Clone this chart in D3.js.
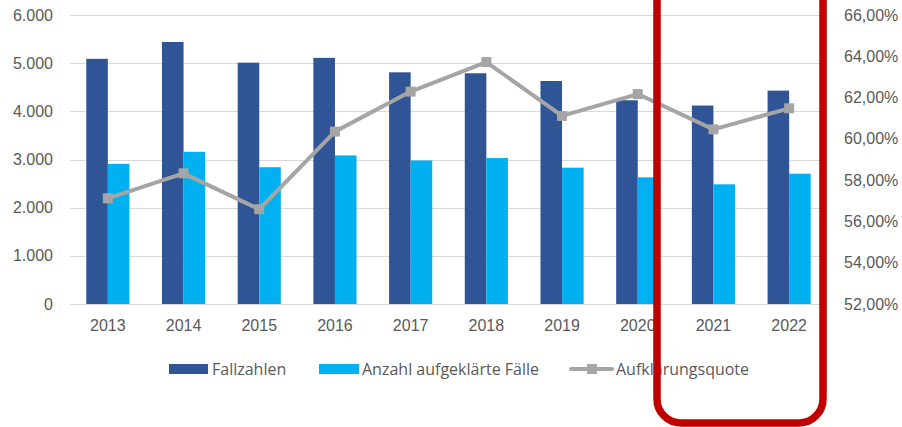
<!DOCTYPE html>
<html>
<head>
<meta charset="utf-8">
<script src="https://cdn.jsdelivr.net/npm/d3@7.9.0/dist/d3.min.js"></script>
<style>
  body { margin: 0; background: #fff; }
  svg { display: block; font-family: "Open Sans", sans-serif; }
  .tick text { fill: #595959; font-size: 16px; }
</style>
</head>
<body>
<svg id="chart" width="902" height="427"></svg>
<script>
const years = ['2013', '2014', '2015', '2016', '2017', '2018', '2019', '2020', '2021', '2022'];
const fallzahlen = [5090, 5440, 5010, 5110, 4810, 4790, 4630, 4230, 4120, 4430];
const aufgeklaert = [2910, 3160, 2840, 3085, 2980, 3030, 2830, 2630, 2485, 2705];
const quote = [57.12, 58.33, 56.59, 60.35, 62.29, 63.72, 61.11, 62.17, 60.46, 61.48];
const leftTicks = [0, 1000, 2000, 3000, 4000, 5000, 6000];
const rightTicks = [52, 54, 56, 58, 60, 62, 64, 66];
const seriesNames = ['Fallzahlen', 'Anzahl aufgeklärte Fälle', 'Aufklärungsquote'];
const colors = ['#2f5597', '#00b0f0', '#a5a5a5'];

const svg = d3.select('#chart');
const plotLeft = 70, plotRight = 827, plotTop = 15, plotBottom = 304;

const x = d3.scaleBand().domain(years).range([plotLeft, plotRight])
  .paddingInner(0.43).paddingOuter(0.215);
const xSub = d3.scaleBand().domain([0, 1]).range([0, x.bandwidth()]);
const y = d3.scaleLinear().domain([0, 6000]).range([plotBottom, plotTop]);
const y2 = d3.scaleLinear().domain([52, 66]).range([plotBottom, plotTop]);

const de = d3.formatLocale({ decimal: ',', thousands: '.', grouping: [3], currency: ['', ' €'] });

// gridlines
svg.append('g')
  .selectAll('line')
  .data(leftTicks)
  .join('line')
  .attr('x1', plotLeft).attr('x2', plotRight)
  .attr('y1', d => Math.round(y(d)) + 0.5).attr('y2', d => Math.round(y(d)) + 0.5)
  .attr('stroke', '#d9d9d9').attr('stroke-width', 1);

// left axis
const yAxis = svg.append('g')
  .attr('transform', `translate(${plotLeft},0)`)
  .call(d3.axisLeft(y).tickValues(leftTicks).tickSize(0).tickPadding(17)
    .tickFormat(d => d === 0 ? '0' : de.format(',')(d)));
yAxis.select('.domain').remove();

// right axis
const y2Axis = svg.append('g')
  .attr('transform', `translate(${844},0)`)
  .call(d3.axisRight(y2).tickValues(rightTicks).tickSize(0).tickPadding(0)
    .tickFormat(d => de.format(',.2f')(d) + '%'));
y2Axis.select('.domain').remove();

// x axis
const xAxis = svg.append('g')
  .attr('transform', `translate(0,${plotBottom})`)
  .call(d3.axisBottom(x).tickSize(0).tickPadding(16));
xAxis.select('.domain').remove();

// bars
const groups = svg.append('g')
  .selectAll('g')
  .data(years)
  .join('g')
  .attr('transform', d => `translate(${x(d)},0)`);

groups.append('rect')
  .attr('x', xSub(0)).attr('width', xSub.bandwidth())
  .attr('y', (d, i) => y(fallzahlen[i]))
  .attr('height', (d, i) => y(0) - y(fallzahlen[i]))
  .attr('fill', colors[0]);

groups.append('rect')
  .attr('x', xSub(1)).attr('width', xSub.bandwidth())
  .attr('y', (d, i) => y(aufgeklaert[i]))
  .attr('height', (d, i) => y(0) - y(aufgeklaert[i]))
  .attr('fill', colors[1]);

// line
const line = d3.line()
  .x((d, i) => x(years[i]) + x.bandwidth() / 2)
  .y(d => y2(d));

svg.append('path')
  .datum(quote)
  .attr('d', line)
  .attr('fill', 'none')
  .attr('stroke', colors[2])
  .attr('stroke-width', 4)
  .attr('stroke-linejoin', 'round');

svg.append('g')
  .selectAll('rect')
  .data(quote)
  .join('rect')
  .attr('x', (d, i) => x(years[i]) + x.bandwidth() / 2 - 5)
  .attr('y', d => y2(d) - 5)
  .attr('width', 10).attr('height', 10)
  .attr('fill', colors[2]);

// legend
const legendY = 369;
const legend = svg.append('g').attr('font-size', 16).attr('fill', '#595959');

legend.append('rect').attr('x', 169).attr('y', legendY - 5).attr('width', 39).attr('height', 10).attr('fill', colors[0]);
legend.append('text').attr('x', 212).attr('y', legendY).attr('dy', '0.35em').text(seriesNames[0]);

legend.append('rect').attr('x', 319).attr('y', legendY - 5).attr('width', 40).attr('height', 10).attr('fill', colors[1]);
legend.append('text').attr('x', 362).attr('y', legendY).attr('dy', '0.35em').text(seriesNames[1]);

legend.append('line').attr('x1', 571).attr('x2', 612).attr('y1', legendY).attr('y2', legendY)
  .attr('stroke', colors[2]).attr('stroke-width', 4).attr('stroke-linecap', 'round');
legend.append('rect').attr('x', 587).attr('y', legendY - 5).attr('width', 10).attr('height', 10).attr('fill', colors[2]);
legend.append('text').attr('x', 616).attr('y', legendY).attr('dy', '0.35em').text(seriesNames[2]);

// red highlight box
svg.append('rect')
  .attr('x', 657).attr('y', -60)
  .attr('width', 166).attr('height', 483)
  .attr('rx', 24).attr('ry', 24)
  .attr('fill', 'none')
  .attr('stroke', '#c00000')
  .attr('stroke-width', 7.5);
</script>
</body>
</html>
